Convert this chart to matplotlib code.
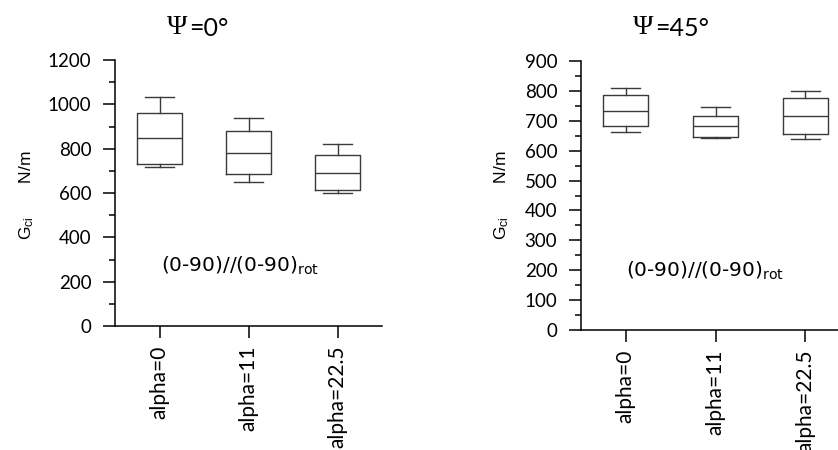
import matplotlib
matplotlib.use("Agg")
import matplotlib.pyplot as plt
from matplotlib.ticker import MultipleLocator

plt.rcParams["font.family"] = ["Liberation Sans", "DejaVu Sans"]
plt.rcParams["mathtext.default"] = "regular"

labels = ["alpha=0", "alpha=11", "alpha=22.5"]

# psi = 0
lo_0 = [719, 648, 599]
q1_0 = [731, 684, 612]
med_0 = [847, 782, 692]
q3_0 = [960, 880, 770]
hi_0 = [1035, 940, 820]

# psi = 45
lo_45 = [664, 643, 638]
q1_45 = [681, 645, 656]
med_45 = [734, 682, 716]
q3_45 = [785, 716, 775]
hi_45 = [811, 747, 799]

W, H = 838, 450
fig = plt.figure(figsize=(W / 100, H / 100), dpi=100)


def box_stats(lo, q1, med, q3, hi):
    return [dict(whislo=a, q1=b, med=c, q3=d, whishi=e, fliers=[], label=l)
            for a, b, c, d, e, l in zip(lo, q1, med, q3, hi, labels)]


def panel(rect, stats, ymax, major, minor, title, tx, lab_x, ann_x, ann_y):
    x0, x1, ytop, ybot = rect
    ax = fig.add_axes([x0 / W, 1 - ybot / H, (x1 - x0) / W, (ybot - ytop) / H])
    line = dict(color="#3a3a3a", linewidth=1.0)
    ax.bxp(stats, positions=[1, 2, 3], widths=0.5, showfliers=False,
           boxprops=line, whiskerprops=line, capprops=line,
           medianprops=line, capwidths=0.32)
    ax.set_xlim(0.5, 3.5)
    ax.set_ylim(0, ymax)
    ax.spines[["top", "right"]].set_visible(False)
    for s in ("left", "bottom"):
        ax.spines[s].set_linewidth(1.1)
    ax.yaxis.set_major_locator(MultipleLocator(major))
    ax.yaxis.set_minor_locator(MultipleLocator(minor))
    ax.tick_params(axis="both", which="major", length=8.6, width=1.1,
                   direction="out")
    ax.tick_params(axis="y", which="minor", length=4.3, width=1.1)
    ax.tick_params(axis="y", pad=8.5, labelsize=13.5, labelfontfamily="Lato")
    ax.tick_params(axis="x", pad=5.5, labelsize=15, labelfontfamily="Lato")
    ax.set_xticks([1, 2, 3])
    ax.set_xticklabels(labels, rotation=90)
    # y label
    fig.text(lab_x / W, 1 - 195 / H, r"G$_{ci}$       N/m",
             fontsize=12.5, rotation=90, ha="center", va="center")
    ax.text(ann_x, ann_y, r"(0-90)//(0-90)$_{rot}$", family="DejaVu Sans",
            fontsize=14.5, ha="center", va="center")
    fig.text(tx / W, 1 - 28 / H, "Ψ", family="Liberation Serif",
             fontsize=20, ha="right", va="center")
    fig.text((tx + 2) / W, 1 - 29 / H, title, family="Lato",
             fontsize=18, ha="left", va="center")
    return ax


ax1 = panel((115, 382, 60, 326), box_stats(lo_0, q1_0, med_0, q3_0, hi_0),
            1200, 200, 100, "=0°", 187, 27, 1.90, 272)
ax2 = panel((581, 850, 61, 330), box_stats(lo_45, q1_45, med_45, q3_45, hi_45),
            900, 100, 50, "=45°", 653, 502, 1.88, 198)

fig.savefig("out.png", dpi=100, facecolor="white")
